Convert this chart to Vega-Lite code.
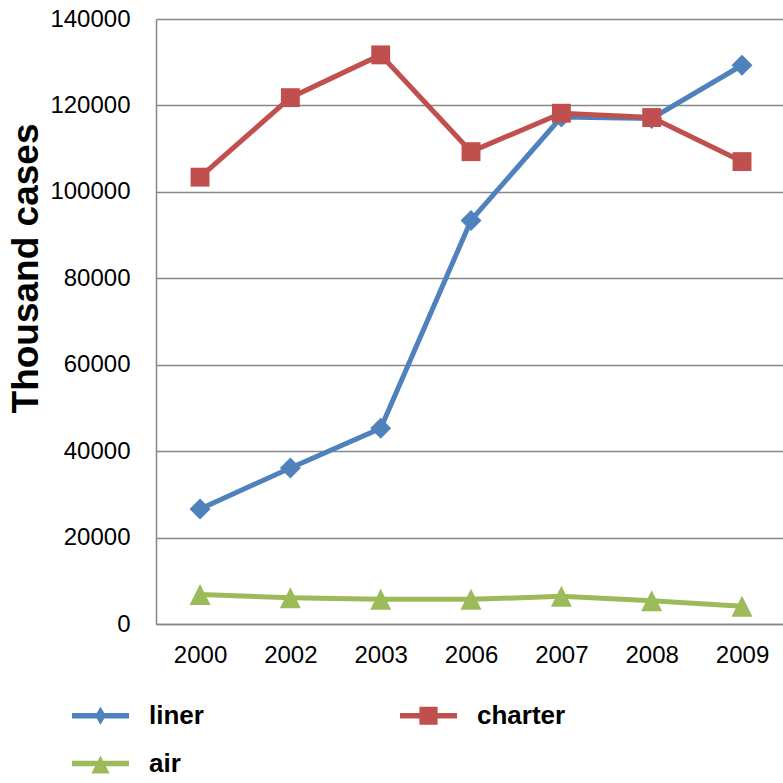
{
  "$schema": "https://vega.github.io/schema/vega-lite/v6.json",
  "autosize": "none",
  "width": 627,
  "height": 605,
  "padding": {"left": 156, "top": 19, "right": 0, "bottom": 159},
  "background": "white",
  "config": {"view": {"stroke": null}, "font": "Liberation Sans"},
  "data": {"values": [
    {"year": "2000", "series": "liner", "value": 26600},
    {"year": "2002", "series": "liner", "value": 36100},
    {"year": "2003", "series": "liner", "value": 45300},
    {"year": "2006", "series": "liner", "value": 93400},
    {"year": "2007", "series": "liner", "value": 117300},
    {"year": "2008", "series": "liner", "value": 117000},
    {"year": "2009", "series": "liner", "value": 129300},
    {"year": "2000", "series": "charter", "value": 103400},
    {"year": "2002", "series": "charter", "value": 121800},
    {"year": "2003", "series": "charter", "value": 131700},
    {"year": "2006", "series": "charter", "value": 109300},
    {"year": "2007", "series": "charter", "value": 118200},
    {"year": "2008", "series": "charter", "value": 117200},
    {"year": "2009", "series": "charter", "value": 107000},
    {"year": "2000", "series": "air", "value": 6800},
    {"year": "2002", "series": "air", "value": 6100},
    {"year": "2003", "series": "air", "value": 5700},
    {"year": "2006", "series": "air", "value": 5700},
    {"year": "2007", "series": "air", "value": 6400},
    {"year": "2008", "series": "air", "value": 5400},
    {"year": "2009", "series": "air", "value": 4100}
  ]},
  "encoding": {
    "x": {
      "field": "year", "type": "ordinal",
      "scale": {"type": "point", "padding": 0.4705, "align": 0.518},
      "axis": {
        "title": null, "labelAngle": 0, "ticks": false,
        "domainColor": "#868686", "domainWidth": 1.5,
        "labelFont": "Liberation Sans", "labelFontSize": 24, "labelColor": "#000000",
        "labelPadding": 19, "grid": false
      }
    },
    "y": {
      "field": "value", "type": "quantitative",
      "scale": {"domain": [0, 140000], "nice": false},
      "axis": {
        "values": [0, 20000, 40000, 60000, 80000, 100000, 120000, 140000],
        "format": "d", "ticks": false,
        "domainColor": "#868686", "domainWidth": 1.5,
        "grid": true, "gridColor": "#868686", "gridWidth": 1.5,
        "labelFont": "Liberation Sans", "labelFontSize": 24, "labelColor": "#000000",
        "labelPadding": 26,
        "title": "Thousand cases", "titleFont": "Liberation Sans", "titleFontSize": 37,
        "titleFontWeight": "bold", "titleColor": "#000000",
        "titleAngle": -90, "titleAlign": "center", "titleBaseline": "alphabetic",
        "titleX": -119, "titleY": 249
      }
    }
  },
  "layer": [
    {
      "mark": {"type": "line", "strokeWidth": 5},
      "encoding": {
        "color": {
          "field": "series", "type": "nominal",
          "scale": {"domain": ["liner", "charter", "air"], "range": ["#4F81BD", "#C0504D", "#9BBB59"]},
          "legend": {
            "title": null, "orient": "none", "legendX": -84, "legendY": 668,
            "direction": "horizontal", "columns": 2, "columnPadding": 196, "rowPadding": 6,
            "padding": 0, "symbolSize": 3249, "symbolStrokeWidth": 0,
            "labelFont": "Liberation Sans", "labelFontSize": 26, "labelFontWeight": "bold",
            "labelColor": "#000000", "labelOffset": 20, "labelBaseline": "middle",
            "encode": {
              "symbols": {
                "update": {
                  "shape": {"signal": "datum.value === 'liner' ? 'M-1,-0.1H1V0.1H-1Z M0,-0.32L0.19,0L0,0.32L-0.19,0Z' : datum.value === 'charter' ? 'M-1,-0.1H1V0.1H-1Z M-0.32,-0.32H0.32V0.32H-0.32Z' : 'M-1,-0.1H1V0.1H-1Z M0,-0.28L0.32,0.35L-0.32,0.35Z'"},
                  "fill": {"scale": "color", "field": "value"},
                  "fillOpacity": {"value": 1},
                  "strokeWidth": {"value": 0},
                  "opacity": {"value": 1}
                }
              }
            }
          }
        }
      }
    },
    {
      "transform": [{"filter": "datum.series === 'liner'"}],
      "mark": {"type": "point", "filled": true, "size": 441, "opacity": 1, "color": "#4F81BD", "shape": "M0,-1L1,0L0,1L-1,0Z"}
    },
    {
      "transform": [{"filter": "datum.series === 'charter'"}],
      "mark": {"type": "point", "filled": true, "size": 441, "opacity": 1, "color": "#C0504D", "shape": "M-0.9,-0.9H0.9V0.9H-0.9Z"}
    },
    {
      "transform": [{"filter": "datum.series === 'air'"}],
      "mark": {"type": "point", "filled": true, "size": 441, "opacity": 1, "color": "#9BBB59", "shape": "M0,-1L1,1L-1,1Z"}
    }
  ]
}
